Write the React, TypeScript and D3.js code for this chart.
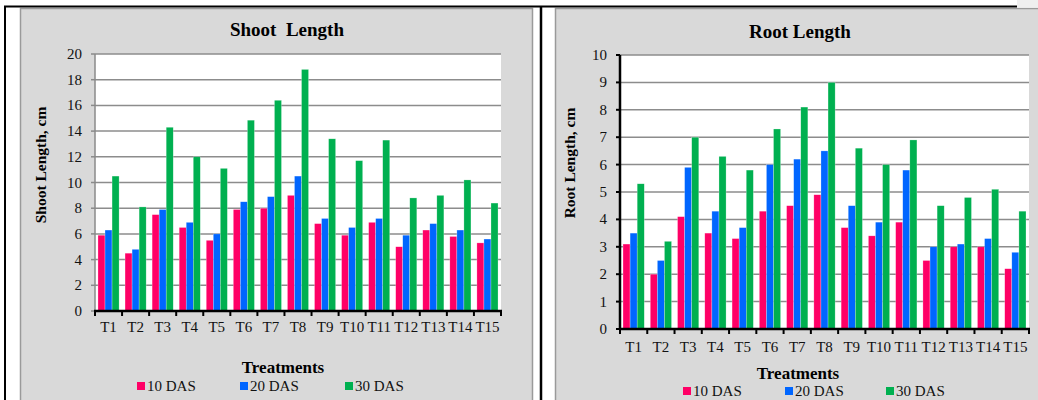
import React from "react";
import * as d3 from "d3";

const treatments = ["T1","T2","T3","T4","T5","T6","T7","T8","T9","T10","T11","T12","T13","T14","T15"];
const seriesNames = ["10 DAS", "20 DAS", "30 DAS"];
const seriesColors = ["#FF0066", "#0066FF", "#00B050"];

const shoot10 = [5.9, 4.5, 7.5, 6.5, 5.5, 7.9, 8.0, 9.0, 6.8, 5.9, 6.9, 5.0, 6.3, 5.8, 5.3];
const shoot20 = [6.3, 4.8, 7.9, 6.9, 6.0, 8.5, 8.9, 10.5, 7.2, 6.5, 7.2, 5.9, 6.8, 6.3, 5.6];
const shoot30 = [10.5, 8.1, 14.3, 12.0, 11.1, 14.85, 16.4, 18.8, 13.4, 11.7, 13.3, 8.8, 9.0, 10.2, 8.4];

const root10 = [3.1, 2.0, 4.1, 3.5, 3.3, 4.3, 4.5, 4.9, 3.7, 3.4, 3.9, 2.5, 3.0, 3.0, 2.2];
const root20 = [3.5, 2.5, 5.9, 4.3, 3.7, 6.0, 6.2, 6.5, 4.5, 3.9, 5.8, 3.0, 3.1, 3.3, 2.8];
const root30 = [5.3, 3.2, 7.0, 6.3, 5.8, 7.3, 8.1, 9.0, 6.6, 6.0, 6.9, 4.5, 4.8, 5.1, 4.3];

const shootTicks = [0, 2, 4, 6, 8, 10, 12, 14, 16, 18, 20];
const rootTicks = [0, 1, 2, 3, 4, 5, 6, 7, 8, 9, 10];

const FONT = "Liberation Serif, Times New Roman, DejaVu Serif, serif";

type ChartProps = {
  title: string;
  yTitle: string;
  series: number[][];
  ticks: number[];
  box: { x: number; y: number; w: number; h: number };
  plot: { x0: number; x1: number; y0: number; y1: number };
  titlePos: [number, number];
  yTitlePos: [number, number];
  xTitlePos: [number, number];
  xLabelY: number;
  legendY: number;
  legendX: number[];
  blackYAxis: boolean;
};

function Chart(p: ChartProps) {
  const x = d3.scaleBand<string>().domain(treatments).range([p.plot.x0, p.plot.x1]).paddingInner(0).paddingOuter(0);
  const bw = x.bandwidth();
  const groupW = bw * 0.78;
  const inner = d3.scaleBand<number>().domain([0, 1, 2]).range([0, groupW]);
  const y = d3.scaleLinear().domain([0, d3.max(p.ticks) as number]).range([p.plot.y1, p.plot.y0]);
  const boundaries = d3.range(treatments.length + 1).map((i) => p.plot.x0 + i * bw);
  const axisColor = p.blackYAxis ? "#000" : "#8a8a8a";
  return (
    <g style={{ fontFamily: FONT }}>
      <rect x={p.box.x} y={p.box.y} width={p.box.w} height={p.box.h} fill="#D9D9D9" stroke="#9a9a9a" strokeWidth={1.5} />
      <text x={p.titlePos[0]} y={p.titlePos[1]} textAnchor="middle" fontWeight="bold" fontSize={19} style={{ whiteSpace: "pre" }}>{p.title}</text>
      <rect x={p.plot.x0} y={p.plot.y0} width={p.plot.x1 - p.plot.x0} height={p.plot.y1 - p.plot.y0} fill="#fff" />
      {p.ticks.filter((t) => t > 0).map((t) => (
        <line key={"g" + t} x1={p.plot.x0} x2={p.plot.x1} y1={y(t)} y2={y(t)} stroke="#8c8c8c" strokeWidth={1.5} />
      ))}
      {p.series.map((vals, si) =>
        vals.map((v, i) => (
          <rect
            key={si + "-" + i}
            x={(x(treatments[i]) as number) + (bw - groupW) / 2 + (inner(si) as number)}
            y={y(v)}
            width={inner.bandwidth()}
            height={y(0) - y(v)}
            fill={seriesColors[si]}
            stroke="rgba(255,255,255,0.5)"
            strokeWidth={0.5}
          />
        ))
      )}
      <line x1={p.plot.x0} x2={p.plot.x0} y1={p.plot.y0} y2={p.plot.y1} stroke={axisColor} strokeWidth={p.blackYAxis ? 2.5 : 1.5} />
      {p.ticks.map((t) => (
        <g key={"t" + t}>
          <line x1={p.plot.x0 - 4} x2={p.plot.x0} y1={y(t)} y2={y(t)} stroke={axisColor} strokeWidth={p.blackYAxis ? 2 : 1.5} />
          <text x={p.plot.x0 - 13} y={y(t) + 5} textAnchor="end" fontSize={15} fill="#111">{t}</text>
        </g>
      ))}
      <line x1={p.plot.x0 - 1} x2={p.plot.x1 + 1} y1={p.plot.y1} y2={p.plot.y1} stroke="#000" strokeWidth={2.5} />
      {boundaries.map((bx, i) => (
        <line key={"b" + i} x1={bx} x2={bx} y1={p.plot.y1} y2={p.plot.y1 + 5} stroke="#000" strokeWidth={2} />
      ))}
      {treatments.map((t) => (
        <text key={"xl" + t} x={(x(t) as number) + bw / 2} y={p.xLabelY} textAnchor="middle" fontSize={15} fill="#111">{t}</text>
      ))}
      <text transform={`translate(${p.yTitlePos[0]},${p.yTitlePos[1]}) rotate(-90)`} textAnchor="middle" fontWeight="bold" fontSize={15.5}>{p.yTitle}</text>
      <text x={p.xTitlePos[0]} y={p.xTitlePos[1]} textAnchor="middle" fontWeight="bold" fontSize={17}>Treatments</text>
      {seriesNames.map((n, si) => (
        <g key={"lg" + si}>
          <rect x={p.legendX[si]} y={p.legendY - 4} width={8} height={8} fill={seriesColors[si]} />
          <text x={p.legendX[si] + 10} y={p.legendY + 5} fontSize={15} fill="#111">{n}</text>
        </g>
      ))}
    </g>
  );
}

export default function App() {
  return (
    <svg width={1038} height={400} style={{ position: "absolute", left: 0, top: 0, background: "#fff" }}>
      <Chart
        title={"Shoot  Length"}
        yTitle="Shoot Length, cm"
        series={[shoot10, shoot20, shoot30]}
        ticks={shootTicks}
        box={{ x: 20.5, y: 8.5, w: 512, h: 400 }}
        plot={{ x0: 95, x1: 501, y0: 54, y1: 311 }}
        titlePos={[287, 36]}
        yTitlePos={[46, 165]}
        xTitlePos={[283, 373]}
        xLabelY={332}
        legendY={386}
        legendX={[137, 240, 345]}
        blackYAxis={false}
      />
      <Chart
        title="Root Length"
        yTitle="Root Length, cm"
        series={[root10, root20, root30]}
        ticks={rootTicks}
        box={{ x: 555.5, y: 8.5, w: 500, h: 400 }}
        plot={{ x0: 620, x1: 1029, y0: 55, y1: 329 }}
        titlePos={[800, 38]}
        yTitlePos={[575, 163]}
        xTitlePos={[798, 379]}
        xLabelY={352}
        legendY={391}
        legendX={[683, 785, 886]}
        blackYAxis={true}
      />
      <rect x={1017} y={0} width={21} height={7.5} fill="#EFEFEF" />
      <line x1={4} x2={1017} y1={6.5} y2={6.5} stroke="#000" strokeWidth={2} />
      <line x1={5} x2={5} y1={6} y2={400} stroke="#000" strokeWidth={2} />
      <line x1={541} x2={541} y1={6} y2={400} stroke="#000" strokeWidth={2.5} />
    </svg>
  );
}
